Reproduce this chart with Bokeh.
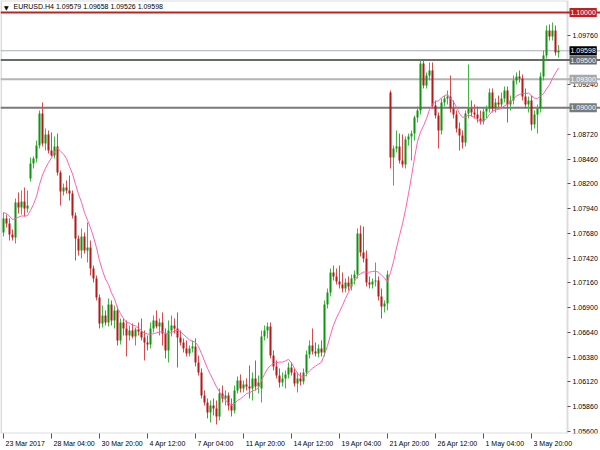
from bokeh.plotting import figure
from bokeh.models import (Range1d, LinearAxis, FixedTicker, PrintfTickFormatter, Span, Label,
                          ColumnDataSource, Grid, BoxAnnotation)
from bokeh.embed import file_html
from bokeh.resources import INLINE

symbol = "EURUSD.H4"

opens = [1.07690,1.07837,1.07784,1.07669,1.07637,1.08005,1.07952,1.08015,1.07942,1.08257,
1.08414,1.08467,1.08603,1.08939,1.08624,1.08719,1.08551,1.08498,1.08593,1.08320,
1.08120,1.08162,1.08131,1.08099,1.07868,1.07627,1.07501,1.07648,1.07501,1.07532,
1.07312,1.07207,1.07007,1.06734,1.06818,1.06745,1.06934,1.06766,1.06871,1.06556,
1.06745,1.06682,1.06608,1.06661,1.06598,1.06671,1.06650,1.06587,1.06535,1.06514,
1.06682,1.06766,1.06703,1.06745,1.06629,1.06451,1.06661,1.06713,1.06682,1.06587,
1.06535,1.06472,1.06420,1.06472,1.06493,1.06325,1.06220,1.05978,1.05905,1.05800,
1.05873,1.05842,1.05758,1.05999,1.05947,1.05978,1.05873,1.05821,1.06031,1.06136,
1.06052,1.06094,1.06073,1.06052,1.06157,1.06073,1.06052,1.06598,1.06661,1.06703,
1.06398,1.06283,1.06188,1.06115,1.06157,1.06199,1.06272,1.06220,1.06104,1.06157,
1.06125,1.06220,1.06409,1.06503,1.06440,1.06420,1.06472,1.06430,1.06934,1.07060,
1.07270,1.07228,1.07176,1.07144,1.07102,1.07165,1.07123,1.07207,1.07249,1.07680,
1.07480,1.07417,1.07165,1.07144,1.07176,1.07186,1.07018,1.06913,1.06944,1.09160,
1.08477,1.08572,1.08593,1.08446,1.08404,1.08666,1.08698,1.08729,1.08897,1.08971,
1.09465,1.09233,1.09338,1.09391,1.09023,1.08918,1.08761,1.09055,1.09097,1.09118,
1.08992,1.08929,1.08782,1.08708,1.08635,1.08939,1.08992,1.08950,1.08929,1.08887,
1.08856,1.08961,1.08992,1.09160,1.08992,1.09055,1.09034,1.09097,1.09181,1.09034,
1.09076,1.09286,1.09328,1.09307,1.09118,1.09034,1.09076,1.08824,1.08929,1.08992,
1.09328,1.09548,1.09811,1.09748,1.09811,1.09579]

highs = [1.07900,1.07879,1.07837,1.07721,1.08047,1.08110,1.08131,1.08162,1.08131,1.08477,
1.08488,1.08656,1.08971,1.09055,1.08782,1.08761,1.08740,1.08698,1.08729,1.08341,
1.08204,1.08236,1.08288,1.08131,1.07900,1.07658,1.07732,1.07690,1.07795,1.07606,
1.07343,1.07238,1.07039,1.06923,1.06871,1.06997,1.06976,1.06923,1.06913,1.06787,
1.06787,1.06766,1.06713,1.06734,1.06692,1.06745,1.06787,1.06661,1.06608,1.06745,
1.06818,1.06871,1.06787,1.06850,1.06682,1.06766,1.06818,1.06787,1.06850,1.06661,
1.06577,1.06556,1.06503,1.06556,1.06577,1.06398,1.06262,1.06031,1.05947,1.05926,
1.05947,1.05926,1.06052,1.06083,1.06031,1.06010,1.05947,1.06083,1.06178,1.06199,
1.06136,1.06157,1.06293,1.06220,1.06346,1.06188,1.06661,1.06713,1.06745,1.06745,
1.06451,1.06346,1.06262,1.06220,1.06241,1.06325,1.06325,1.06262,1.06220,1.06220,
1.06262,1.06451,1.06556,1.06682,1.06535,1.06514,1.06556,1.06976,1.07102,1.07312,
1.07343,1.07312,1.07343,1.07270,1.07207,1.07228,1.07249,1.07291,1.07732,1.07763,
1.07753,1.07501,1.07228,1.07207,1.07375,1.07228,1.07102,1.06976,1.07291,1.09181,
1.08603,1.08761,1.08729,1.08719,1.08698,1.08729,1.08761,1.08918,1.09013,1.09496,
1.09496,1.09370,1.09475,1.09475,1.09076,1.08950,1.09097,1.09128,1.09181,1.09338,
1.09076,1.08971,1.08845,1.08761,1.08971,1.09454,1.09076,1.09034,1.09013,1.08971,
1.08992,1.09023,1.09202,1.09202,1.09097,1.09128,1.09160,1.09223,1.09223,1.09128,
1.09338,1.09370,1.09391,1.09349,1.09202,1.09118,1.09128,1.08971,1.09034,1.09370,
1.09601,1.09863,1.09874,1.09895,1.09863,1.09658]

lows = [1.07648,1.07742,1.07606,1.07606,1.07574,1.07889,1.07879,1.07858,1.07900,1.08225,
1.08362,1.08425,1.08572,1.08593,1.08551,1.08519,1.08488,1.08467,1.08288,1.07973,
1.08078,1.08099,1.08026,1.07837,1.07396,1.07448,1.07417,1.07469,1.07375,1.07238,
1.07165,1.06976,1.06682,1.06692,1.06713,1.06703,1.06713,1.06682,1.06503,1.06514,
1.06608,1.06388,1.06556,1.06577,1.06503,1.06608,1.06556,1.06346,1.06451,1.06472,
1.06640,1.06682,1.06608,1.06503,1.06367,1.06325,1.06598,1.06629,1.06272,1.06503,
1.06430,1.06388,1.06388,1.06430,1.06283,1.06188,1.05947,1.05873,1.05737,1.05695,
1.05768,1.05674,1.05716,1.05905,1.05873,1.05821,1.05758,1.05790,1.05999,1.06010,
1.06010,1.06031,1.05947,1.05926,1.06031,1.05999,1.05905,1.06556,1.06577,1.06367,
1.06241,1.06157,1.06062,1.06073,1.06052,1.06157,1.06188,1.06073,1.06010,1.06083,
1.06094,1.06178,1.06367,1.06409,1.06388,1.06378,1.06388,1.06388,1.06892,1.07018,
1.07186,1.07144,1.07102,1.07060,1.07060,1.07081,1.07081,1.07144,1.07207,1.07438,
1.07375,1.07123,1.07102,1.07102,1.07123,1.06976,1.06787,1.06850,1.06871,1.08362,
1.08183,1.08530,1.08414,1.08372,1.08362,1.08603,1.08446,1.08656,1.08845,1.08929,
1.09202,1.09202,1.09286,1.08992,1.08887,1.08572,1.08719,1.09013,1.09034,1.08950,
1.08887,1.08740,1.08551,1.08572,1.08593,1.08887,1.08908,1.08887,1.08845,1.08824,
1.08824,1.08887,1.08950,1.08950,1.08950,1.08992,1.08992,1.09055,1.08845,1.08971,
1.09034,1.09244,1.09265,1.09076,1.08992,1.08950,1.08761,1.08782,1.08729,1.08950,
1.09286,1.09517,1.09706,1.09706,1.09548,1.09526]

closes = [1.07837,1.07784,1.07669,1.07637,1.08005,1.07952,1.08015,1.07942,1.07973,1.08414,
1.08467,1.08603,1.08939,1.08624,1.08719,1.08551,1.08498,1.08593,1.08320,1.08120,
1.08162,1.08131,1.08099,1.07868,1.07627,1.07501,1.07648,1.07501,1.07532,1.07312,
1.07207,1.07007,1.06734,1.06818,1.06745,1.06934,1.06766,1.06871,1.06556,1.06745,
1.06682,1.06608,1.06661,1.06598,1.06671,1.06650,1.06587,1.06535,1.06514,1.06682,
1.06766,1.06703,1.06745,1.06629,1.06451,1.06661,1.06713,1.06682,1.06587,1.06535,
1.06472,1.06420,1.06472,1.06493,1.06325,1.06220,1.05978,1.05905,1.05800,1.05873,
1.05842,1.05758,1.05999,1.05947,1.05978,1.05873,1.05821,1.06031,1.06136,1.06052,
1.06094,1.06073,1.06052,1.06157,1.06073,1.06115,1.06598,1.06661,1.06703,1.06398,
1.06283,1.06188,1.06115,1.06157,1.06199,1.06272,1.06220,1.06104,1.06157,1.06125,
1.06220,1.06409,1.06503,1.06440,1.06420,1.06472,1.06430,1.06934,1.07060,1.07270,
1.07228,1.07176,1.07144,1.07102,1.07165,1.07123,1.07207,1.07249,1.07680,1.07480,
1.07417,1.07165,1.07144,1.07176,1.07186,1.07018,1.06913,1.06944,1.07249,1.08477,
1.08572,1.08593,1.08446,1.08404,1.08666,1.08698,1.08729,1.08897,1.08971,1.09465,
1.09233,1.09338,1.09391,1.09023,1.08918,1.08761,1.09055,1.09097,1.09118,1.08992,
1.08929,1.08782,1.08708,1.08635,1.08939,1.08992,1.08950,1.08929,1.08887,1.08856,
1.08961,1.08992,1.09160,1.08992,1.09055,1.09034,1.09097,1.09181,1.09034,1.09076,
1.09286,1.09328,1.09307,1.09118,1.09034,1.09076,1.08824,1.08929,1.08992,1.09328,
1.09548,1.09811,1.09748,1.09811,1.09580,1.09598]

# closes of the 9 bars before the visible window (seed the moving average)
pre_closes = [1.0786, 1.0795, 1.0799, 1.0790, 1.0782, 1.0788, 1.0796, 1.0793, 1.0785]
ma_period = 10

date_ticks = [0, 16, 32, 48, 64, 80, 96, 112, 128, 144, 160, 176]
date_labels = ["23 Mar 2017", "28 Mar 04:00", "30 Mar 20:00", "4 Apr 12:00", "7 Apr 04:00",
               "11 Apr 20:00", "14 Apr 12:00", "19 Apr 04:00", "21 Apr 20:00", "26 Apr 12:00",
               "1 May 04:00", "3 May 20:00"]

price_ticks = [1.05600, 1.05860, 1.06120, 1.06380, 1.06640, 1.06900, 1.07160, 1.07420,
               1.07680, 1.07940, 1.08200, 1.08460, 1.08720, 1.09240, 1.09760]

levels = [1.10000, 1.09500, 1.09300, 1.09000]
level_colors = ["#c41e1e", "#6a6a6a", "#b4b4b4", "#7a7a7a"]
bid_price = closes[-1]

FONT = "Liberation Sans"
n = len(closes)
xs = list(range(n))

# moving average
allc = pre_closes + closes
ma = [sum(allc[i:i + ma_period]) / ma_period for i in range(n)]

up_body, up_wick = "#0f960f", "#45b545"
dn_body, dn_wick = "#b21a1a", "#d44c4c"
tops, bots, bcol, wcol, hi, lo = [], [], [], [], [], []
for o, h, l, c in zip(opens, highs, lows, closes):
    t, b = max(o, c), min(o, c)
    if t - b < 0.00008:
        m = (t + b) / 2
        t, b = m + 0.00004, m - 0.00004
    tops.append(t); bots.append(b)
    hi.append(max(h, t)); lo.append(min(l, b))
    if c >= o:
        bcol.append(up_body); wcol.append(up_wick)
    else:
        bcol.append(dn_body); wcol.append(dn_wick)

src = ColumnDataSource(dict(x=xs, top=tops, bottom=bots, high=hi, low=lo, bc=bcol, wc=wcol))

# chart window: 3 px per bar, price axis drawn at the right edge of the bar area
x0, x1 = -1.0, 199.0
x_edge = 188.0
y0, y1 = 1.05579, 1.10126

p = figure(width=600, height=450, output_backend="svg", toolbar_location=None,
           x_range=Range1d(x0, x1), y_range=Range1d(y0, y1),
           x_axis_location=None, y_axis_location=None,
           min_border_left=0, min_border_top=0, min_border_right=0, min_border_bottom=17)
p.background_fill_color = "white"
p.border_fill_color = "white"
p.outline_line_color = None
for r in p.center:
    if isinstance(r, Grid):
        r.visible = False

# chart border
p.add_layout(BoxAnnotation(left=-0.8, right=x_edge, bottom=y0, top=y1, fill_alpha=0,
                           line_color="#8c8c8c", line_width=2, level="underlay"))

# horizontal levels
p.add_layout(Span(location=bid_price, dimension="width", line_color="#a6aeb6", line_width=1, level="underlay"))
for lv, col in zip(levels, level_colors):
    p.add_layout(Span(location=lv, dimension="width", line_color=col, line_width=2, level="underlay"))

# candles
p.segment(x0="x", y0="low", x1="x", y1="high", line_color="wc", line_width=1, source=src)
p.vbar(x="x", width=0.68, top="top", bottom="bottom", fill_color="bc", line_color=None, source=src)

# moving average
p.line(xs, ma, line_color="#ff5fb4", line_width=1)

# bottom axis: labels left-aligned at the tick (labels on shifted majors, ticks as minors)
cw = {c: 0.556 for c in "0123456789"}
cw.update({" ": 0.278, ":": 0.278, ".": 0.278, "M": 0.833, "a": 0.556, "r": 0.333,
           "A": 0.667, "p": 0.556, "y": 0.5})
fs = 7.0
px_per_bar = 600.0 / (x1 - x0)
shifted, overrides = [], {}
for t, lab in zip(date_ticks, date_labels):
    w = sum(cw.get(ch, 0.55) for ch in lab) * fs
    s = round(t + (w / 2 + 2.0) / px_per_bar, 2)
    shifted.append(s)
    overrides[s] = lab

xaxis = LinearAxis(ticker=FixedTicker(ticks=shifted, minor_ticks=date_ticks),
                   major_label_overrides=overrides)
xaxis.axis_line_color = None
xaxis.major_tick_line_color = None
xaxis.major_tick_out = 0
xaxis.major_tick_in = 0
xaxis.minor_tick_out = 5
xaxis.minor_tick_in = 0
xaxis.minor_tick_line_color = "#555555"
xaxis.major_label_standoff = 1
xaxis.major_label_text_font = FONT
xaxis.major_label_text_font_size = "7px"
xaxis.major_label_text_color = "black"
p.add_layout(xaxis, "below")

yaxis = LinearAxis(ticker=FixedTicker(ticks=price_ticks), formatter=PrintfTickFormatter(format="%.5f"),
                   fixed_location=x_edge)
yaxis.axis_line_color = None
yaxis.major_tick_out = 3
yaxis.major_tick_in = 0
yaxis.major_tick_line_color = "#555555"
yaxis.minor_tick_line_color = None
yaxis.major_label_standoff = 2
yaxis.major_label_text_font = FONT
yaxis.major_label_text_font_size = "7px"
yaxis.major_label_text_color = "black"
p.add_layout(yaxis, "right")

# price boxes on the right edge
boxes = [(1.10000, "#c41e1e"), (bid_price, "#000000"), (1.09500, "#6a6a6a"),
         (1.09300, "#a8a8a8"), (1.09000, "#7a7a7a")]
for lv, col in boxes:
    p.add_layout(Label(x=x_edge, y=lv, x_offset=2, text="%.5f" % lv, text_align="left",
                       text_baseline="middle", text_color="white", text_font=FONT,
                       text_font_size="7px", background_fill_color=col, background_fill_alpha=1.0,
                       padding=(1, 2)))

# title
p.add_layout(Label(x=x0, y=y1, x_offset=3.5, y_offset=-3, text="\u25bc", text_font="DejaVu Sans",
                   text_font_size="6px", text_baseline="top", text_color="black"))
title = "%s  %.5f %.5f %.5f %.5f" % (symbol, opens[-1], highs[-1], lows[-1], closes[-1])
p.add_layout(Label(x=x0, y=y1, x_offset=13, y_offset=-2, text=title, text_font=FONT,
                   text_font_size="7px", text_baseline="top", text_color="black"))

open("out.html", "w").write(file_html(p, INLINE))
